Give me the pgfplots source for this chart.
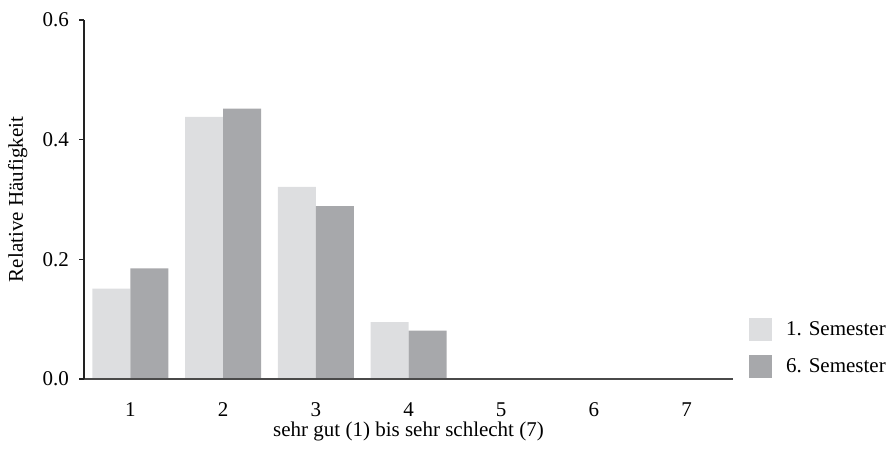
\documentclass[border=0pt]{standalone}
\usepackage{pgfplots}
\pgfplotsset{compat=1.18}
\usepackage{fontspec}
\setmainfont{Liberation Serif}
\definecolor{lightbar}{HTML}{DDDEE0}
\definecolor{darkbar}{HTML}{A7A8AB}
\definecolor{xaxis}{HTML}{4A4A4A}
\definecolor{yaxis}{HTML}{222222}
\begin{document}
\begin{tikzpicture}[font=\fontsize{21}{25}\selectfont]
\useasboundingbox (0,0) rectangle (891pt,453pt);
\begin{axis}[
  at={(84pt,74pt)}, anchor=south west,
  scale only axis, width=649pt, height=359pt,
  axis on top,
  ybar=0pt, bar width=38pt,
  xmin=0.5, xmax=7.5, ymin=0, ymax=0.6,
  axis x line=bottom, axis y line=left,
  x axis line style={-, draw=xaxis, line width=1.8pt},
  y axis line style={-, draw=yaxis, line width=1.2pt},
  xtick={1,2,3,4,5,6,7},
  ytick={0,0.2,0.4,0.6},
  xtick style={draw=none},
  ytick style={draw=yaxis, line width=1.2pt},
  tick align=outside, major tick length=5pt,
  /pgf/number format/assume math mode=true,
  yticklabel={\pgfmathprintnumber[fixed,fixed zerofill,precision=1]{\tick}},
  x tick label style={anchor=base, yshift=-32pt, inner sep=0pt},
  y tick label style={anchor=east, inner sep=0pt, xshift=-10pt},
  xlabel={sehr gut (1) bis sehr schlecht (7)},
  ylabel={Relative Häufigkeit},
  x label style={at={(axis description cs:0.5,0)}, anchor=base, yshift=-57pt},
  y label style={at={(axis description cs:-0.094,0.5)}, rotate=0, anchor=base},
  legend style={draw=none, fill=none, inner sep=0pt, outer sep=0pt,
    at={(axis description cs:1.0247,0.17)}, anchor=north west,
    row sep=14pt, nodes={inner sep=0pt},
    /tikz/every odd column/.append style={column sep=14pt}},
  legend cell align=left,
  legend image code/.code={\fill[#1] (0pt,-11.5pt) rectangle (23pt,11.5pt);},
  clip=false,
]
\addplot[fill=lightbar, draw=none] coordinates {(1,0.151) (2,0.438) (3,0.321) (4,0.095) (5,0) (6,0) (7,0)};
\addplot[fill=darkbar, draw=none] coordinates {(1,0.185) (2,0.452) (3,0.289) (4,0.081) (5,0) (6,0) (7,0)};
\legend{1. Semester, 6. Semester}
\end{axis}
\end{tikzpicture}
\end{document}
